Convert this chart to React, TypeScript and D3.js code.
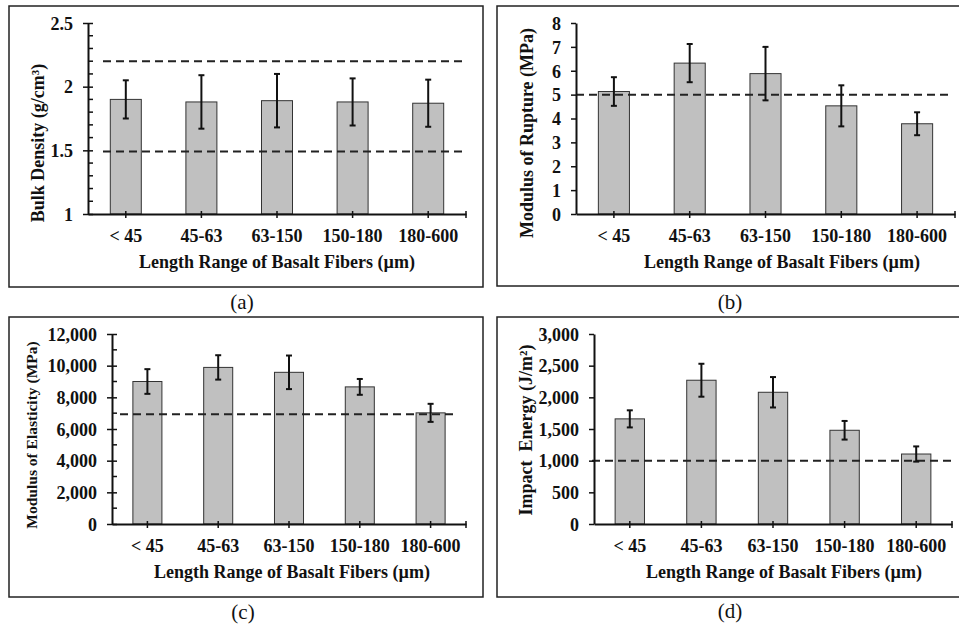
import React, { useEffect, useRef } from 'react';
import * as d3 from 'd3';

// categories shared by all four panels
const categories = ['< 45', '45-63', '63-150', '150-180', '180-600'];

// (a) bulk density
const bulkDensity = [1.9, 1.88, 1.89, 1.88, 1.87];
const bulkDensityErr = [0.15, 0.21, 0.21, 0.185, 0.185];
const bulkDensityRefs = [2.2, 1.49];
const bulkDensityTicks = [1, 1.5, 2, 2.5];

// (b) modulus of rupture
const rupture = [5.13, 6.32, 5.88, 4.53, 3.78];
const ruptureErr = [0.6, 0.8, 1.12, 0.86, 0.48];
const ruptureRefs = [5];
const ruptureTicks = [0, 1, 2, 3, 4, 5, 6, 7, 8];

// (c) modulus of elasticity
const elasticity = [9000, 9890, 9580, 8660, 7020];
const elasticityErr = [780, 770, 1060, 500, 570];
const elasticityRefs = [6930];
const elasticityTicks = [0, 2000, 4000, 6000, 8000, 10000, 12000];

// (d) impact energy
const impact = [1660, 2270, 2080, 1480, 1105];
const impactErr = [135, 260, 240, 147, 120];
const impactRefs = [1000];
const impactTicks = [0, 500, 1000, 1500, 2000, 2500, 3000];

const xTitle = 'Length Range of Basalt Fibers (\u00b5m)';
const FONT = "'Liberation Serif', 'Times New Roman', serif";

const panels = [
  {
    caption: '(a)', yTitle: 'Bulk Density (g/cm\u00b3)', values: bulkDensity, errs: bulkDensityErr,
    refs: bulkDensityRefs, ticks: bulkDensityTicks, domain: [1, 2.5], minorStep: 0.1, fmt: d3.format(''),
    box: [9, 6, 483, 287], x0: 88, x1: 466, yTop: 23, yBot: 214, cross: true,
    yTitlePos: [38, 143, 18], xTitleX: 277, dash: [103, 462], capPos: [242, 302],
  },
  {
    caption: '(b)', yTitle: 'Modulus of Rupture (MPa)', values: rupture, errs: ruptureErr,
    refs: ruptureRefs, ticks: ruptureTicks, domain: [0, 8], minorStep: 0, fmt: d3.format(''),
    box: [497, 6, 975, 286], x0: 576, x1: 955, yTop: 23, yBot: 214, cross: false,
    yTitlePos: [527, 133, 18], xTitleX: 782, dash: [576, 950], capPos: [730, 302],
  },
  {
    caption: '(c)', yTitle: 'Modulus of Elasticity (MPa)', values: elasticity, errs: elasticityErr,
    refs: elasticityRefs, ticks: elasticityTicks, domain: [0, 12000], minorStep: 1000, fmt: d3.format(','),
    box: [9, 317, 483, 597], x0: 112, x1: 466, yTop: 334, yBot: 524, cross: true,
    yTitlePos: [32, 435, 15.5], xTitleX: 292, dash: [120, 455], capPos: [243, 612],
  },
  {
    caption: '(d)', yTitle: 'Impact  Energy (J/m\u00b2)', values: impact, errs: impactErr,
    refs: impactRefs, ticks: impactTicks, domain: [0, 3000], minorStep: 0, fmt: d3.format(','),
    box: [497, 317, 975, 597], x0: 594, x1: 952, yTop: 334, yBot: 524, cross: false,
    yTitlePos: [526, 430, 18], xTitleX: 784, dash: [592, 952], capPos: [730, 611],
  },
];

function App() {
  const ref = useRef<SVGSVGElement>(null);

  useEffect(() => {
    const svg = d3.select(ref.current);
    svg.selectAll('*').remove();

    panels.forEach(p => {
      const g = svg.append('g');
      const [bx0, by0, bx1, by1] = p.box;

      g.append('rect')
        .attr('x', bx0).attr('y', by0)
        .attr('width', bx1 - bx0).attr('height', by1 - by0)
        .attr('fill', 'none').attr('stroke', '#222').attr('stroke-width', 1.5);

      const x = d3.scaleBand().domain(categories).range([p.x0, p.x1])
        .paddingInner(0.59).paddingOuter(0.295);
      const y = d3.scaleLinear().domain(p.domain).range([p.yBot, p.yTop]);

      // bars
      g.selectAll('.bar')
        .data(p.values)
        .enter().append('rect')
        .attr('x', (d, i) => x(categories[i]))
        .attr('y', d => y(d))
        .attr('width', x.bandwidth())
        .attr('height', d => p.yBot - y(d))
        .attr('fill', '#c0c0c0')
        .attr('stroke', '#333')
        .attr('stroke-width', 1);

      // reference lines
      g.selectAll('.ref')
        .data(p.refs)
        .enter().append('line')
        .attr('x1', p.dash[0]).attr('x2', p.dash[1])
        .attr('y1', d => y(d)).attr('y2', d => y(d))
        .attr('stroke', '#222').attr('stroke-width', 2)
        .attr('stroke-dasharray', '8,5');

      // error bars
      const eb = g.selectAll('.err')
        .data(p.values)
        .enter().append('g')
        .attr('stroke', '#111').attr('stroke-width', 2);
      const cx = (i: number) => x(categories[i])! + x.bandwidth() / 2;
      eb.append('line')
        .attr('x1', (d, i) => cx(i)).attr('x2', (d, i) => cx(i))
        .attr('y1', (d, i) => y(d + p.errs[i])).attr('y2', (d, i) => y(d - p.errs[i]));
      eb.append('line')
        .attr('x1', (d, i) => cx(i) - 3).attr('x2', (d, i) => cx(i) + 3)
        .attr('y1', (d, i) => y(d + p.errs[i])).attr('y2', (d, i) => y(d + p.errs[i]));
      eb.append('line')
        .attr('x1', (d, i) => cx(i) - 3).attr('x2', (d, i) => cx(i) + 3)
        .attr('y1', (d, i) => y(d - p.errs[i])).attr('y2', (d, i) => y(d - p.errs[i]));

      // x axis
      const xa = g.append('g')
        .attr('transform', `translate(0,${p.yBot})`)
        .call(d3.axisBottom(x).tickSize(4).tickSizeOuter(0))
        .attr('font-family', FONT).attr('font-size', 18).attr('font-weight', 'bold');
      xa.select('.domain').attr('stroke', '#111').attr('stroke-width', 2);
      xa.selectAll('.tick line').attr('y1', -3).attr('y2', 4).attr('stroke', '#111').attr('stroke-width', 1.5);
      xa.selectAll('.tick text').attr('y', 22).attr('dy', '0.35em').attr('fill', '#111');
      xa.append('line')
        .attr('x1', p.x1).attr('x2', p.x1).attr('y1', -3).attr('y2', 4)
        .attr('stroke', '#111').attr('stroke-width', 1.5);

      // y axis
      const ya = g.append('g')
        .attr('transform', `translate(${p.x0},0)`)
        .call(d3.axisLeft(y).tickValues(p.ticks).tickSize(5).tickSizeOuter(0).tickFormat(p.fmt as any))
        .attr('font-family', FONT).attr('font-size', 18).attr('font-weight', 'bold');
      ya.select('.domain').attr('stroke', '#111').attr('stroke-width', 2);
      ya.selectAll('.tick line').attr('x1', p.cross ? 5 : 0).attr('stroke', '#111').attr('stroke-width', 1.5);
      ya.selectAll('.tick text').attr('x', -15).attr('dy', '0.35em').attr('fill', '#111');
      if (p.minorStep) {
        const minor = d3.range(p.domain[0], p.domain[1] + 1e-9, p.minorStep)
          .filter(v => !p.ticks.some(t => Math.abs(t - v) < 1e-9));
        ya.selectAll('.minor')
          .data(minor)
          .enter().append('line')
          .attr('x1', 0).attr('x2', 5)
          .attr('y1', d => y(d)).attr('y2', d => y(d))
          .attr('stroke', '#111').attr('stroke-width', 1.5);
      }

      // titles
      const [tx, ty, ts] = p.yTitlePos;
      g.append('text')
        .attr('transform', `translate(${tx},${ty}) rotate(-90)`)
        .attr('text-anchor', 'middle').attr('dy', '0.35em')
        .attr('font-family', FONT).attr('font-size', ts).attr('font-weight', 'bold')
        .attr('fill', '#111')
        .style('white-space', 'pre')
        .text(p.yTitle);
      g.append('text')
        .attr('x', p.xTitleX).attr('y', p.yBot + 48)
        .attr('text-anchor', 'middle').attr('dy', '0.35em')
        .attr('font-family', FONT).attr('font-size', 18).attr('font-weight', 'bold')
        .attr('fill', '#111')
        .text(xTitle);

      // caption
      g.append('text')
        .attr('x', p.capPos[0]).attr('y', p.capPos[1])
        .attr('text-anchor', 'middle').attr('dy', '0.35em')
        .attr('font-family', FONT).attr('font-size', 21)
        .attr('fill', '#111')
        .text(p.caption);
    });
  }, []);

  return (
    <svg ref={ref} width={959} height={629}
      style={{ position: 'absolute', left: 0, top: 0, background: '#fff' }} />
  );
}

export default App;
